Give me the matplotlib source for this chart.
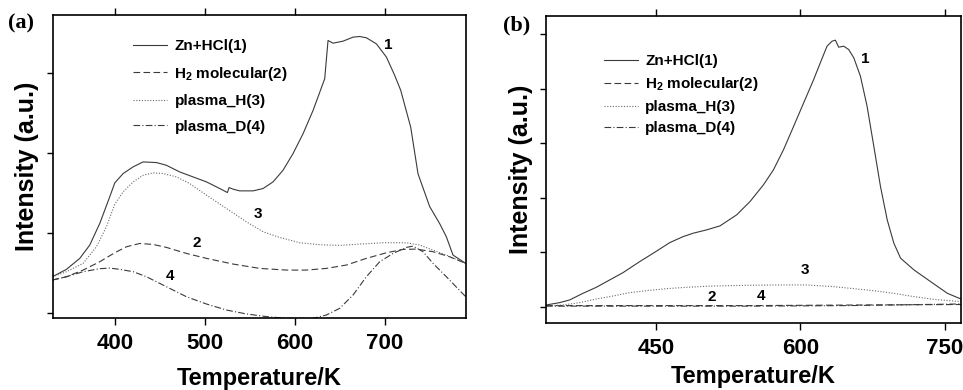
import matplotlib
matplotlib.use("Agg")
import matplotlib.pyplot as plt

plt.rcParams['font.family'] = ['Liberation Sans', 'DejaVu Sans']
plt.rcParams['mathtext.default'] = 'regular'

# ---------------- Panel (a) data ----------------
a_t1 = [330.7, 346.3, 361.1, 372.2, 383.3, 394.4, 400, 409.3, 420.4, 431.5, 446.3, 457.4, 472.2, 487.0, 501.9,
        516.7, 525.2, 527.0, 531.5, 538.9, 553.7, 564.8, 575.9, 587.0, 598.1, 609.3, 620.4, 633.3, 637.0, 642.6,
        653.7, 664.8, 672.2, 679.6, 690.7, 701.9, 711.1, 717.8, 728.9, 737.0, 750.0, 761.0, 768.5, 775.9, 790]
a_y1 = [0.456, 0.548, 0.685, 0.851, 1.120, 1.452, 1.626, 1.743, 1.826, 1.888, 1.880, 1.846, 1.763, 1.701, 1.639,
        1.556, 1.506, 1.568, 1.548, 1.527, 1.527, 1.556, 1.639, 1.784, 1.992, 2.241, 2.531, 2.925, 3.402, 3.369,
        3.394, 3.444, 3.452, 3.436, 3.361, 3.195, 2.967, 2.78, 2.32, 1.74, 1.33, 1.12, 0.954, 0.726, 0.622]

a_t3 = [330.7, 346.3, 364.8, 379.6, 390.7, 400, 409.3, 420.4, 431.5, 442.6, 453.7, 468.5, 483.3, 501.9, 524.1,
        546.3, 564.8, 583.3, 605.6, 627.8, 650, 672.2, 698.1, 724.1, 738.9, 753.7, 768.5, 790]
a_y3 = [0.456, 0.519, 0.622, 0.830, 1.079, 1.36, 1.515, 1.639, 1.722, 1.751, 1.743, 1.701, 1.618, 1.473, 1.307,
        1.141, 1.017, 0.946, 0.880, 0.855, 0.847, 0.863, 0.880, 0.880, 0.851, 0.788, 0.726, 0.622]

a_t2 = [330.7, 346.3, 364.8, 383.3, 400, 413, 427.8, 442.6, 457.4, 479.6, 501.9, 531.5, 561.1, 590.7, 612.9,
        635.2, 657.4, 679.6, 701.9, 720.4, 735.2, 753.7, 772.2, 790]
a_y2 = [0.415, 0.456, 0.539, 0.643, 0.755, 0.830, 0.871, 0.859, 0.822, 0.747, 0.685, 0.614, 0.560, 0.539, 0.539,
        0.560, 0.602, 0.685, 0.755, 0.797, 0.801, 0.768, 0.705, 0.622]

a_t4 = [330.7, 346.3, 364.8, 383.3, 394.4, 405.6, 420.4, 435.2, 450, 464.8, 479.6, 501.9, 524.1, 546.3, 568.5,
        590.7, 620.4, 635.2, 650, 664.8, 679.6, 694.4, 709.3, 724.1, 731.5, 742.6, 753.7, 768.5, 790]
a_y4 = [0.415, 0.456, 0.519, 0.556, 0.564, 0.548, 0.519, 0.456, 0.373, 0.290, 0.207, 0.116, 0.041, -0.008, -0.041,
        -0.062, -0.062, -0.021, 0.062, 0.228, 0.456, 0.643, 0.747, 0.822, 0.838, 0.768, 0.622, 0.456, 0.207]

# ---------------- Panel (b) data ----------------
b_t1 = [336.1, 350.0, 360.4, 374.3, 388.2, 402.1, 416.0, 433.3, 450, 464.6, 478.5, 488.9, 502.8, 516.7, 534.0,
        547.9, 561.8, 572.2, 582.6, 593.1, 603.5, 613.9, 620.8, 627.8, 633.0, 636.5, 639.9, 645.1, 650.3, 655.6,
        662.5, 669.4, 676.4, 683.3, 690.3, 697.2, 704.2, 718.1, 735.4, 752.8, 767.7]
b_y1 = [0.031, 0.074, 0.123, 0.245, 0.356, 0.491, 0.626, 0.828, 1.012, 1.178, 1.288, 1.350, 1.411, 1.485, 1.687,
        1.933, 2.239, 2.515, 2.883, 3.313, 3.742, 4.172, 4.479, 4.785, 4.877, 4.896, 4.767, 4.785, 4.724, 4.571,
        4.233, 3.681, 2.945, 2.209, 1.595, 1.166, 0.890, 0.675, 0.460, 0.245, 0.135]

b_t3 = [336.1, 353.5, 370.8, 388.2, 405.6, 422.9, 440.3, 461.1, 481.9, 509.7, 544.4, 579.2, 606.9, 634.7, 655.6,
        676.4, 697.2, 718.1, 738.9, 767.7]
b_y3 = [0.012, 0.031, 0.074, 0.141, 0.196, 0.258, 0.294, 0.331, 0.356, 0.380, 0.393, 0.399, 0.399, 0.368, 0.331,
        0.294, 0.245, 0.184, 0.135, 0.092]

b_t2 = [336, 450, 550, 650, 767]
b_y2 = [0.02, 0.02, 0.02, 0.03, 0.04]

b_t4 = [336, 450, 550, 650, 767]
b_y4 = [0.01, 0.01, 0.01, 0.02, 0.05]

legend_labels = ["Zn+HCl(1)", "H$_2$ molecular(2)", "plasma_H(3)", "plasma_D(4)"]
a_xticks = [400, 500, 600, 700]
b_xticks = [450, 600, 750]

styles = [dict(ls='-', color='#3a3a3a', lw=0.8),
          dict(ls=(0, (6, 3)), color='#3a3a3a', lw=0.8),
          dict(ls=(0, (1, 1.5)), color='#6a6a6a', lw=0.8),
          dict(ls=(0, (6, 2, 1, 2)), color='#3a3a3a', lw=0.8)]

fig = plt.figure(figsize=(9.63, 3.9), dpi=100)
axa = fig.add_axes([0.0547, 0.1846, 0.4289, 0.7769])
axb = fig.add_axes([0.567, 0.1726, 0.431, 0.7864])

def style_axes(ax, xticks, xlim, ylim, yticks, xlabelpad, ylabelpad):
    ax.set_xlim(*xlim)
    ax.set_ylim(*ylim)
    ax.set_xticks(xticks)
    ax.set_yticks(yticks)
    ax.set_yticklabels([])
    ax.tick_params(axis='x', which='both', direction='out', top=True, labeltop=False,
                   length=5, width=1, labelsize=16, pad=6)
    ax.tick_params(axis='y', direction='out', length=4, width=1)
    for lab in ax.get_xticklabels():
        lab.set_fontweight('bold')
    for s in ax.spines.values():
        s.set_linewidth(1.2)
    ax.set_xlabel("Temperature/K", fontsize=17, fontweight='bold', labelpad=xlabelpad)
    ax.set_ylabel("Intensity (a.u.)", fontsize=18, fontweight='bold', labelpad=ylabelpad)

# Panel (a)
la = []
for (t, y), st in zip([(a_t1, a_y1), (a_t2, a_y2), (a_t3, a_y3), (a_t4, a_y4)], styles):
    ln, = axa.plot(t, y, **st)
    la.append(ln)
style_axes(axa, a_xticks, (331, 790), (-0.0586, 3.72), [0, 1, 2, 3], 9, 2)
axa.legend(la, legend_labels, loc='upper left', bbox_to_anchor=(0.195, 0.92),
           frameon=False, handlelength=2.2, handletextpad=0.5, labelspacing=0.75,
           borderpad=0, borderaxespad=0, prop=dict(weight='bold', size=11))
for txt, (x, y) in zip(["1", "2", "3", "4"], [(704, 3.34), (491, 0.88), (559, 1.24), (461, 0.46)]):
    axa.text(x, y, txt, fontsize=11, fontweight='bold', ha='center', va='center')

# Panel (b)
lb = []
for (t, y), st in zip([(b_t1, b_y1), (b_t2, b_y2), (b_t3, b_y3), (b_t4, b_y4)], styles):
    ln, = axb.plot(t, y, **st)
    lb.append(ln)
style_axes(axb, b_xticks, (336, 767), (-0.294, 5.34), [0, 1, 2, 3, 4, 5], 4, 2)
axb.legend(lb, legend_labels, loc='upper left', bbox_to_anchor=(0.14, 0.875),
           frameon=False, handlelength=2.2, handletextpad=0.5, labelspacing=0.45,
           borderpad=0, borderaxespad=0, prop=dict(weight='bold', size=11))
for txt, (x, y) in zip(["1", "2", "3", "4"], [(668, 4.55), (508, 0.17), (605, 0.67), (559, 0.20)]):
    axb.text(x, y, txt, fontsize=11, fontweight='bold', ha='center', va='center')

fig.text(8 / 963, 1 - 23 / 390, "(a)", fontsize=16, fontweight='bold',
         family='Liberation Serif', ha='left', va='center')
fig.text(503 / 963, 1 - 25 / 390, "(b)", fontsize=16, fontweight='bold',
         family='Liberation Serif', ha='left', va='center')

fig.savefig("out.png", dpi=100)
